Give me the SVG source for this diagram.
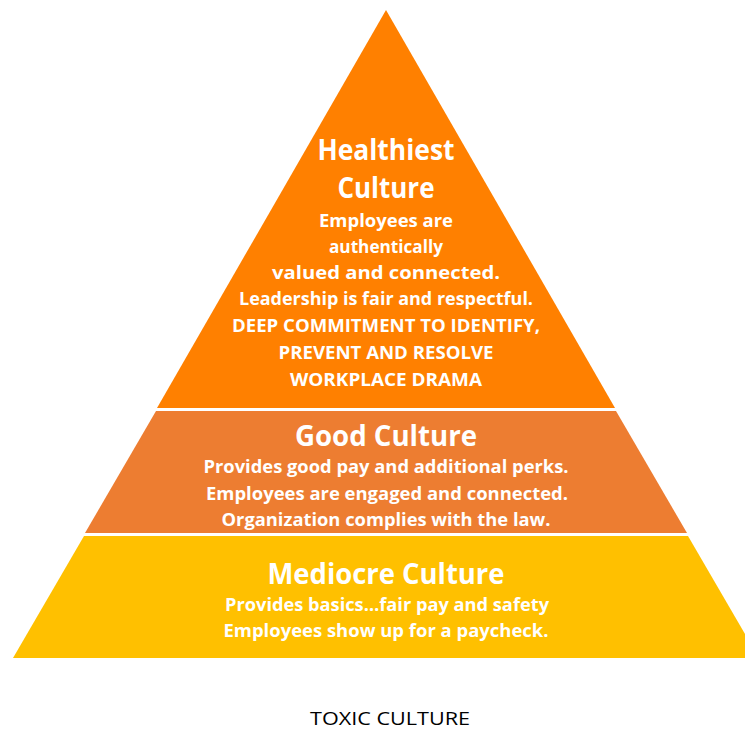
<svg xmlns="http://www.w3.org/2000/svg" width="745" height="730" viewBox="0 0 745 730">
  <style>
    .t { font-family: "Open Sans", Lato, "Liberation Sans", sans-serif; font-weight: bold; fill: #ffffff; text-anchor: middle; }
    .h1 { font-size: 28px; }
    .b { font-size: 18px; }
    .cap { font-family: "Open Sans", "Liberation Sans", sans-serif; font-size: 19px; fill: #000000; text-anchor: middle; }
  </style>
  <rect width="745" height="730" fill="#ffffff"/>

  <!-- Top tier -->
  <g id="healthiest">
    <polygon points="386,10 615,408 157,408" fill="#FF8000"/>
    <text class="t h1" x="386" y="160" textLength="137" lengthAdjust="spacingAndGlyphs">Healthiest</text>
    <text class="t h1" x="386" y="198" textLength="97" lengthAdjust="spacingAndGlyphs">Culture</text>
    <text class="t b" x="386" y="227" textLength="134" lengthAdjust="spacingAndGlyphs">Employees are</text>
    <text class="t b" x="386" y="253" textLength="114" lengthAdjust="spacingAndGlyphs">authentically</text>
    <text class="t b" x="386" y="279" textLength="228" lengthAdjust="spacingAndGlyphs">valued and connected.</text>
    <text class="t b" x="386" y="305" textLength="294" lengthAdjust="spacingAndGlyphs">Leadership is fair and respectful.</text>
    <text class="t b" x="386" y="332" textLength="308" lengthAdjust="spacingAndGlyphs">DEEP COMMITMENT TO IDENTIFY,</text>
    <text class="t b" x="386" y="359" textLength="215" lengthAdjust="spacingAndGlyphs">PREVENT AND RESOLVE</text>
    <text class="t b" x="386" y="386" textLength="192" lengthAdjust="spacingAndGlyphs">WORKPLACE DRAMA</text>
  </g>

  <!-- Middle tier -->
  <g id="good">
    <polygon points="156,411 616,411 687,533 85,533" fill="#ED7D31"/>
    <text class="t h1" x="386" y="446" textLength="182" lengthAdjust="spacingAndGlyphs">Good Culture</text>
    <text class="t b" x="386" y="473" textLength="365" lengthAdjust="spacingAndGlyphs">Provides good pay and additional perks.</text>
    <text class="t b" x="387" y="500" textLength="362" lengthAdjust="spacingAndGlyphs">Employees are engaged and connected.</text>
    <text class="t b" x="386" y="526" textLength="329" lengthAdjust="spacingAndGlyphs">Organization complies with the law.</text>
  </g>

  <!-- Bottom tier -->
  <g id="mediocre">
    <polygon points="84,536 688,536 759,658 13,658" fill="#FFC000"/>
    <text class="t h1" x="386" y="584" textLength="237" lengthAdjust="spacingAndGlyphs">Mediocre Culture</text>
    <text class="t b" x="387" y="611" textLength="324" lengthAdjust="spacingAndGlyphs">Provides basics…fair pay and safety</text>
    <text class="t b" x="386" y="637" textLength="325" lengthAdjust="spacingAndGlyphs">Employees show up for a paycheck.</text>
  </g>

  <g id="toxic">
    <text class="cap" x="390" y="725" textLength="160" lengthAdjust="spacingAndGlyphs">TOXIC CULTURE</text>
  </g>

  <g id="connectors"/>
</svg>
